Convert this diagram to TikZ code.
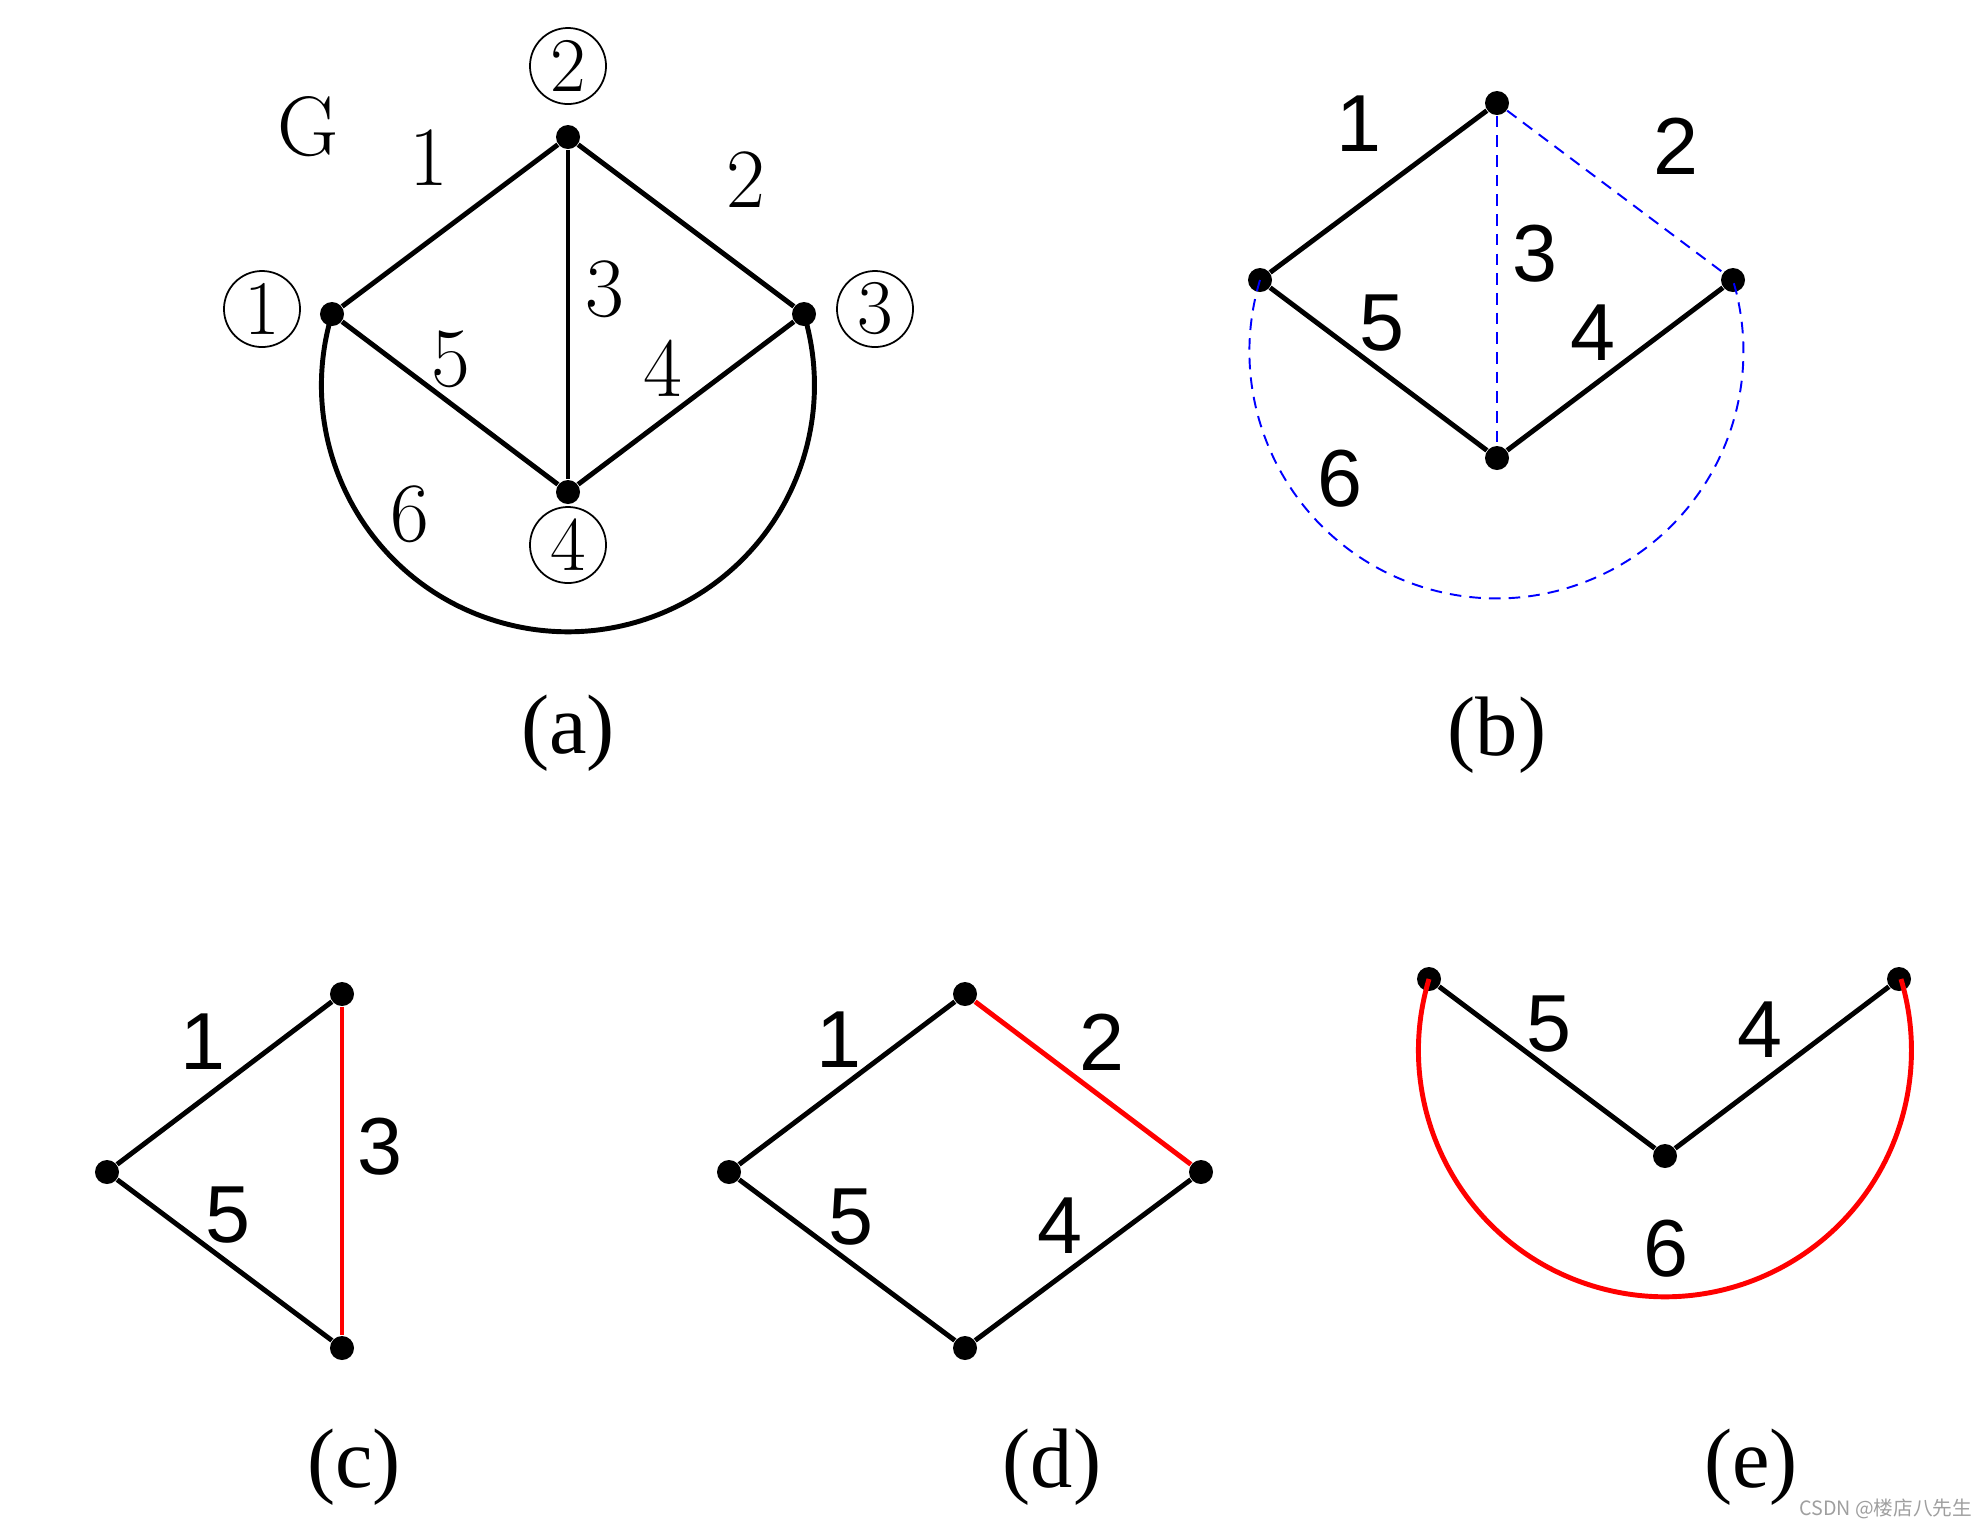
\documentclass[tikz,border=0pt]{standalone}
\usepackage{fontspec}
\newfontfamily\sffig{Liberation Sans}
\newfontfamily\rmcap{Liberation Serif}
\newfontfamily\cjkmark{Noto Sans CJK SC}

\tikzset{
  vdot/.style={circle,fill=black,inner sep=0pt,minimum size=0.24cm},
  blk/.style={line width=1.4pt},
  redline/.style={line width=1.4pt,red},
  blueline/.style={line width=0.55pt,blue,dash pattern=on 3.3pt off 2.3pt},
  alab/.style={font=\fontsize{24}{24}\selectfont},
  vlab/.style={circle,draw,line width=0.5pt,inner sep=0pt,minimum size=0.76cm,font=\fontsize{22}{22}\selectfont},
  slab/.style={font=\sffig\fontsize{23}{23}\selectfont},
  sublab/.style={font=\rmcap\fontsize{24}{24}\selectfont},
}

\begin{document}
\begin{tikzpicture}[x=0.01cm,y=-0.01cm]
  \useasboundingbox (0,0) rectangle (1988,1529);
  % (a)
  \node[vdot] (a1) at (332,314) {};
  \node[vdot] (a2) at (568,137) {};
  \node[vdot] (a3) at (804,314) {};
  \node[vdot] (a4) at (568,492) {};
  \draw[blk] (a1) -- (a2);
  \draw[blk] (a2) -- (a3);
  \draw[blk] (a2) -- (a4);
  \draw[blk] (a3) -- (a4);
  \draw[blk] (a1) -- (a4);
  \draw[blk] (a1) arc[start angle=196.8, end angle=-16.8, radius=246.5];
  \node[alab] (ga) at (308,127) {G};
  \node[alab] (ea1) at (429,158) {1};
  \node[alab] (ea2) at (746,180) {2};
  \node[alab] (ea3) at (605,289) {3};
  \node[alab] (ea5) at (451,359) {5};
  \node[alab] (ea4) at (663,368) {4};
  \node[alab] (ea6) at (410,514) {6};
  \node[vlab] (na1) at (262,309) {1};
  \node[vlab] (na2) at (568,66) {2};
  \node[vlab] (na3) at (875,309) {3};
  \node[vlab] (na4) at (568,545) {4};
  \node[sublab] (ca) at (568,733) {(a)};
  % (b)
  \node[vdot] (b1) at (1260,280) {};
  \node[vdot] (b2) at (1497,103) {};
  \node[vdot] (b3) at (1733,280) {};
  \node[vdot] (b4) at (1497,458) {};
  \draw[blueline] (b2) -- (b3);
  \draw[blueline] (b2) -- (b4);
  \draw[blueline] (b1) arc[start angle=196.8, end angle=-16.8, radius=247];
  \draw[blk] (b1) -- (b2);
  \draw[blk] (b1) -- (b4);
  \draw[blk] (b3) -- (b4);
  \node[slab] (eb1) at (1359,124) {1};
  \node[slab] (eb2) at (1676,146) {2};
  \node[slab] (eb3) at (1535,254) {3};
  \node[slab] (eb5) at (1382,323) {5};
  \node[slab] (eb4) at (1593,333) {4};
  \node[slab] (eb6) at (1340,479) {6};
  \node[sublab] (cb) at (1497,735) {(b)};
  % (c)
  \node[vdot] (c1) at (107,1172) {};
  \node[vdot] (c2) at (342,994) {};
  \node[vdot] (c4) at (342,1348) {};
  \draw[blk] (c1) -- (c2);
  \draw[blk] (c1) -- (c4);
  \draw[redline,line width=1pt] (c2) -- (c4);
  \node[slab] (ec1) at (203,1042) {1};
  \node[slab] (ec3) at (380,1147) {3};
  \node[slab] (ec5) at (228,1215) {5};
  \node[sublab] (cc) at (354,1467) {(c)};
  % (d)
  \node[vdot] (d1) at (729,1172) {};
  \node[vdot] (d2) at (965,994) {};
  \node[vdot] (d3) at (1201,1172) {};
  \node[vdot] (d4) at (965,1348) {};
  \draw[blk] (d1) -- (d2);
  \draw[redline] (d2) -- (d3);
  \draw[blk] (d1) -- (d4);
  \draw[blk] (d3) -- (d4);
  \node[slab] (ed1) at (839,1040) {1};
  \node[slab] (ed2) at (1102,1042) {2};
  \node[slab] (ed5) at (851,1217) {5};
  \node[slab] (ed4) at (1060,1226) {4};
  \node[sublab] (cd) at (1052,1467) {(d)};
  % (e)
  \node[vdot] (e1) at (1429,979) {};
  \node[vdot] (e3) at (1899,979) {};
  \node[vdot] (e4) at (1665,1156) {};
  \draw[redline] (e1) arc[start angle=196.8, end angle=-16.8, radius=246.5];
  \draw[blk] (e1) -- (e4);
  \draw[blk] (e3) -- (e4);
  \node[slab] (ee5) at (1549,1024) {5};
  \node[slab] (ee4) at (1760,1030) {4};
  \node[slab] (ee6) at (1666,1249) {6};
  \node[sublab] (ce) at (1751,1467) {(e)};
  % watermark
  \node[font=\cjkmark\fontsize{5.6}{5.6}\selectfont,text=gray!75,inner sep=0pt,anchor=east] (wm) at (1973,1509) {CSDN @楼店八先生};
\end{tikzpicture}
\end{document}
